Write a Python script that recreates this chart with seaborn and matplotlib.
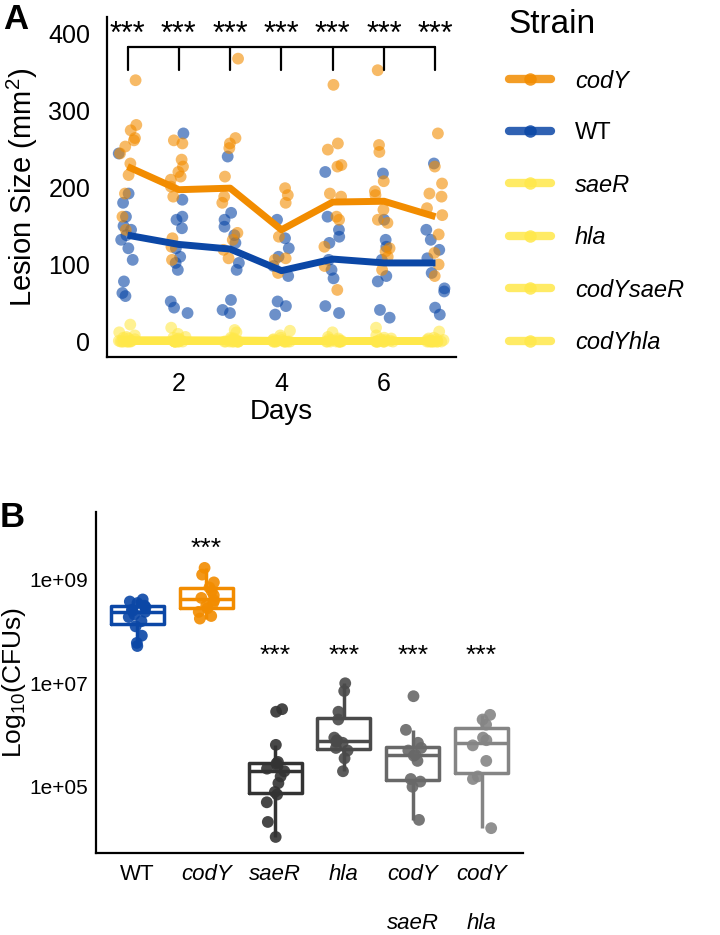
import matplotlib
matplotlib.use('Agg')
import matplotlib.pyplot as plt
from matplotlib.lines import Line2D
import numpy as np
import pandas as pd
import seaborn as sns

sns.set_style('white')
plt.rcParams['font.family'] = ['Liberation Sans', 'DejaVu Sans']
plt.rcParams['mathtext.fontset'] = 'custom'
plt.rcParams['mathtext.rm'] = 'Liberation Sans'
plt.rcParams['mathtext.it'] = 'Liberation Sans:italic'
for k in ['text.color', 'axes.labelcolor', 'xtick.color', 'ytick.color']:
    plt.rcParams[k] = 'black'

np.random.seed(3)

# ---------------- panel A data: lesion size (mm2) by day ----------------
days = [1, 2, 3, 4, 5, 6, 7]
strains = ['codY', 'WT', 'saeR', 'hla', 'codYsaeR', 'codYhla']

codY_pts = [
    [339, 281, 274, 264, 261, 253, 244, 231, 216, 192, 162, 145],
    [261, 257, 236, 227, 220, 214, 210, 201, 188, 134, 123, 106],
    [367, 264, 257, 251, 214, 188, 180, 141, 132, 119, 108],
    [199, 190, 180, 136, 108, 106, 89],
    [333, 257, 249, 229, 227, 192, 188, 162, 158, 123, 98, 67],
    [352, 255, 246, 208, 195, 190, 171, 158, 154, 121, 117, 110, 93],
    [270, 227, 205, 192, 188, 173, 164, 139, 115, 100, 85],
]
WT_pts = [
    [244, 192, 180, 162, 150, 145, 138, 132, 121, 106, 78, 63, 59],
    [270, 184, 162, 158, 147, 121, 110, 102, 93, 52, 44, 37],
    [240, 167, 158, 149, 138, 128, 102, 93, 54, 41, 37],
    [158, 134, 121, 110, 98, 85, 52, 46, 35],
    [220, 162, 145, 136, 128, 106, 93, 82, 46, 37],
    [218, 158, 132, 123, 106, 85, 78, 41, 31],
    [231, 145, 132, 119, 108, 89, 69, 65, 44, 35],
]
saeR_pts = [[22, 5, 0, 0], [18, 4, 0, 0], [15, 3, 0, 0], [14, 2, 0, 0],
            [12, 3, 0, 0], [8, 2, 0, 0], [13, 3, 0, 0]]
hla_pts = [[12, 6, 1, 0], [10, 5, 1, 0], [12, 4, 0, 0], [8, 3, 0, 0],
           [6, 2, 0, 0], [18, 4, 0, 0], [5, 2, 0, 0]]
codYsaeR_pts = [[8, 3, 0, 0], [6, 2, 0, 0], [5, 2, 0, 0], [5, 1, 0, 0],
                [4, 1, 0, 0], [5, 1, 0, 0], [4, 1, 0, 0]]
codYhla_pts = [[4, 1, 0, 0], [3, 0, 0, 0], [3, 0, 0, 0], [2, 0, 0, 0],
               [2, 0, 0, 0], [3, 0, 0, 0], [2, 0, 0, 0]]

codY_mean = [227, 197, 199, 145, 181, 182, 162]
WT_mean = [138, 126, 120, 92, 107, 102, 102]
saeR_mean = [2, 2, 2, 1.5, 1, 1, 1]
hla_mean = [2, 2, 1.5, 1, 1, 1.5, 1]
codYsaeR_mean = [1, 1, 1, 1, 0.5, 0.5, 0.5]
codYhla_mean = [0.5, 0.5, 0.5, 0.5, 0.5, 0.5, 0.5]

# ---------------- panel B data: log10 CFUs ----------------
groups = ['WT', 'codY', 'saeR', 'hla', 'codYsaeR', 'codYhla']
group_labels = ['WT', 'codY', 'saeR', 'hla', 'codY\nsaeR', 'codY\nhla']
WT_cfu = [8.62, 8.58, 8.55, 8.5, 8.47, 8.42, 8.4, 8.38, 8.33, 8.28, 8.2, 8.1, 7.92, 7.78, 7.72]
codY_cfu = [9.23, 9.1, 8.95, 8.85, 8.78, 8.7, 8.65, 8.6, 8.55, 8.5, 8.45, 8.38, 8.3, 8.25]
saeR_cfu = [4.03, 4.32, 4.7, 4.85, 4.9, 5.07, 5.2, 5.3, 5.35, 5.4, 5.45, 5.48, 5.81, 6.45, 6.5]
hla_cfu = [5.3, 5.55, 5.7, 5.75, 5.85, 5.87, 5.9, 5.95, 6.3, 6.45, 6.85, 7.0]
codYsaeR_cfu = [4.36, 5.0, 5.1, 5.15, 5.5, 5.6, 5.62, 5.7, 5.75, 5.85, 6.1, 6.75]
codYhla_cfu = [4.2, 5.15, 5.2, 5.5, 5.8, 5.9, 5.95, 6.2, 6.3, 6.39]
star_b = ['', '***', '***', '***', '***', '***']
star_b_y = [0, 9.6, 7.53, 7.53, 7.53, 7.53]

orange = '#F28C00'
blue = '#0B47A6'
yellow = '#FFE84A'
colA = {'codY': orange, 'WT': blue, 'saeR': yellow, 'hla': yellow,
        'codYsaeR': yellow, 'codYhla': yellow}
colB = {'WT': blue, 'codY': orange, 'saeR': '#333333', 'hla': '#4a4a4a',
        'codYsaeR': '#686868', 'codYhla': '#858585'}

pts_by = {'codY': codY_pts, 'WT': WT_pts, 'saeR': saeR_pts, 'hla': hla_pts,
          'codYsaeR': codYsaeR_pts, 'codYhla': codYhla_pts}
mean_by = {'codY': codY_mean, 'WT': WT_mean, 'saeR': saeR_mean, 'hla': hla_mean,
           'codYsaeR': codYsaeR_mean, 'codYhla': codYhla_mean}

draw_order = ['codYhla', 'codYsaeR', 'hla', 'saeR', 'WT', 'codY']
rows = []
for s in draw_order:
    for d, vals in zip(days, pts_by[s]):
        for v in vals:
            rows.append((d, v, s))
pts = pd.DataFrame(rows, columns=['day', 'size', 'strain'])
means = pd.DataFrame([(d, m, s) for s in draw_order
                      for d, m in zip(days, mean_by[s])], columns=['day', 'size', 'strain'])

cfu_by = {'WT': WT_cfu, 'codY': codY_cfu, 'saeR': saeR_cfu, 'hla': hla_cfu,
          'codYsaeR': codYsaeR_cfu, 'codYhla': codYhla_cfu}
cfu = pd.DataFrame([(g, v) for g in groups for v in cfu_by[g]], columns=['strain', 'logcfu'])

fig = plt.figure(figsize=(7.2, 9.35), dpi=100)
ax = fig.add_axes([0.1486, 0.6182, 0.4847, 0.3636])
bx = fig.add_axes([0.1333, 0.0877, 0.593, 0.3647])

# ---------------- panel A ----------------
sns.stripplot(data=pts, x='day', y='size', hue='strain', palette=colA, native_scale=True,
              jitter=0.18, size=8.5, alpha=0.6, linewidth=0, legend=False, ax=ax, zorder=2)
sns.lineplot(data=means, x='day', y='size', hue='strain', palette=colA, linewidth=5,
             legend=False, ax=ax, zorder=3, solid_capstyle='butt')
ax.set_xlim(0.6, 7.4)
ax.set_ylim(-20, 421)
ax.set_xticks([2, 4, 6])
ax.set_yticks([0, 100, 200, 300, 400])
ax.tick_params(labelsize=18, length=0)
ax.tick_params(axis='x', pad=11)
ax.tick_params(axis='y', pad=12)
ax.set_xlabel('Days', fontsize=20, labelpad=2)
ax.set_ylabel('Lesion Size (mm$^2$)', fontsize=21, labelpad=6)
for sp in ['top', 'right']:
    ax.spines[sp].set_visible(False)
for sp in ['left', 'bottom']:
    ax.spines[sp].set_color('black')
    ax.spines[sp].set_linewidth(1.6)
ax.plot([1, 7], [382, 382], color='black', lw=1.6, clip_on=False)
for d in days:
    ax.plot([d, d], [382, 352], color='black', lw=1.6)
    ax.text(d, 398, '***', ha='center', va='center', fontsize=22)

handles = [Line2D([], [], color=colA[s], lw=6, marker='o', markersize=9,
                  markerfacecolor=colA[s], markeredgewidth=0, alpha=0.85) for s in strains]
leg = fig.legend(handles, strains, title='Strain', loc='upper left',
                 bbox_to_anchor=(0.677, 1.013), frameon=False, fontsize=17,
                 title_fontsize=24, handlelength=1.8, labelspacing=1.25,
                 alignment='left', handletextpad=1.0)
for t in leg.get_texts():
    if t.get_text() != 'WT':
        t.set_fontstyle('italic')

# ---------------- panel B ----------------
sns.boxplot(data=cfu, x='strain', y='logcfu', hue='strain', palette=colB, fill=False,
            showfliers=False, showcaps=False, width=0.77, linewidth=2.5, legend=False, ax=bx)
sns.stripplot(data=cfu, x='strain', y='logcfu', hue='strain', palette=colB, jitter=0.14,
              size=8.5, alpha=0.9, linewidth=0, legend=False, ax=bx)
for i, (s, yy) in enumerate(zip(star_b, star_b_y)):
    if s:
        bx.text(i, yy, s, ha='center', va='center', fontsize=19)
bx.set_xlim(-0.6, 5.6)
bx.set_ylim(3.72, 10.31)
bx.set_yticks([5, 7, 9])
bx.set_yticklabels(['1e+05', '1e+07', '1e+09'])
bx.set_xticks(range(len(groups)))
bx.set_xticklabels(group_labels, linespacing=2.75, va='top')
for t in bx.get_xticklabels():
    if t.get_text() != 'WT':
        t.set_fontstyle('italic')
bx.tick_params(axis='x', labelsize=16, length=0, pad=8)
bx.tick_params(axis='y', labelsize=15, length=0, pad=6)
bx.set_xlabel('')
bx.set_ylabel('Log$_{10}$(CFUs)', fontsize=19)
bx.yaxis.set_label_coords(-0.16, 0.5)
for sp in ['top', 'right']:
    bx.spines[sp].set_visible(False)
for sp in ['left', 'bottom']:
    bx.spines[sp].set_color('black')
    bx.spines[sp].set_linewidth(1.6)

fig.text(0.004, 0.979, 'A', fontsize=25, fontweight='bold', va='center', ha='left')
fig.text(0.0, 0.447, 'B', fontsize=25, fontweight='bold', va='center', ha='left')

fig.savefig('out.png', dpi=100)
